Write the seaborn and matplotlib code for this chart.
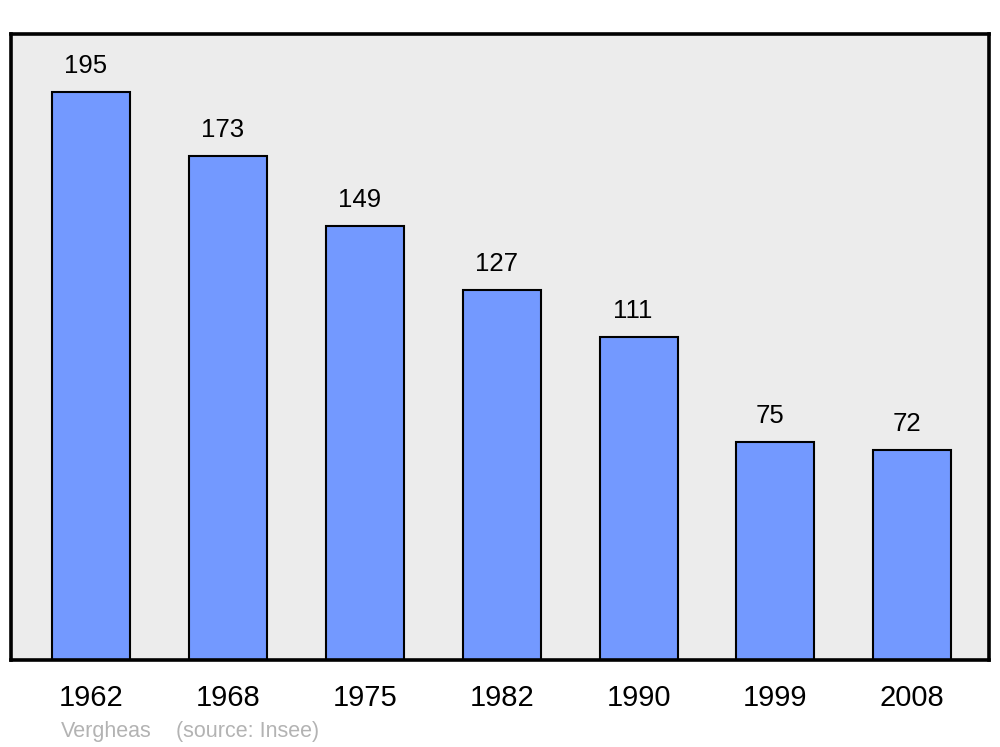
import pandas as pd
import seaborn as sns
import matplotlib.pyplot as plt

years = ['1962', '1968', '1975', '1982', '1990', '1999', '2008']
population = [195, 173, 149, 127, 111, 75, 72]

df = pd.DataFrame({'year': years, 'population': population})

sns.set_style('white')
plt.rcParams['font.family'] = ['Liberation Sans', 'DejaVu Sans']
plt.rcParams['text.color'] = 'black'
plt.rcParams['xtick.color'] = 'black'

fig = plt.figure(figsize=(10, 7.47), dpi=100)
ax = fig.add_axes([0.011, 0.1165, 0.978, 0.838])
ax.set_facecolor('#ececec')

sns.barplot(data=df, x='year', y='population', color='#7399ff', saturation=1,
            width=0.57, edgecolor='black', linewidth=1.5, ax=ax)

# value labels, slightly left of the bar centre like the original
for i, v in enumerate(population):
    ax.annotate(str(v), (i, v), xytext=(-4, 10), textcoords='offset points',
                ha='center', va='bottom', fontsize=18.5, color='black')

ax.set_xlim(-0.584, 6.56)
ax.set_ylim(0, 215)
ax.set_yticks([])
ax.set_xlabel('')
ax.set_ylabel('')
ax.tick_params(axis='x', length=0, pad=17, labelsize=21, labelcolor='black')

for s in ax.spines.values():
    s.set_visible(True)
    s.set_color('black')
    s.set_linewidth(2.6)

fig.text(0.061, 0.0134, 'Vergheas', color='#b3b3b3', fontsize=15.5, ha='left', va='baseline')
fig.text(0.176, 0.0134, '(source: Insee)', color='#b3b3b3', fontsize=15.5, ha='left', va='baseline')

fig.savefig('out.png', dpi=100)
